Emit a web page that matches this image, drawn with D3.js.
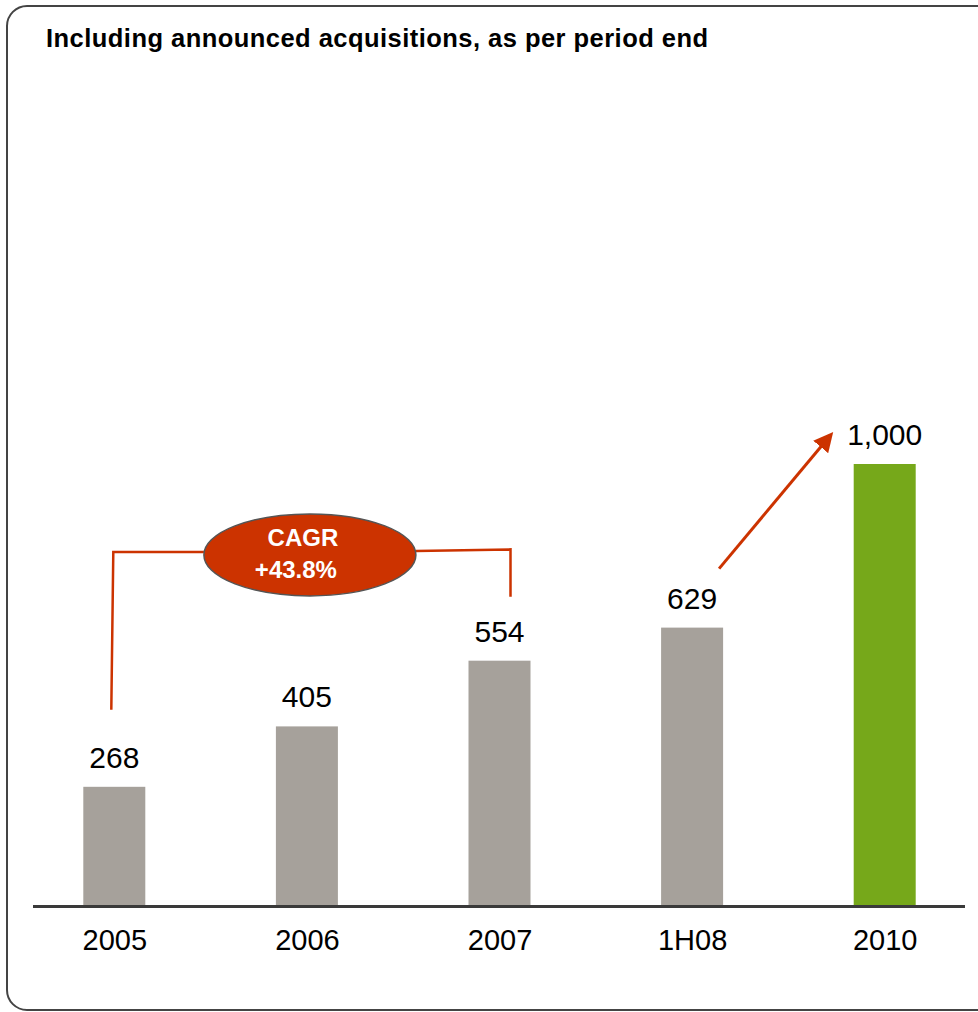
<!DOCTYPE html>
<html>
<head>
<meta charset="utf-8">
<script src="https://cdn.jsdelivr.net/npm/d3@7"></script>
<style>
  html, body { margin: 0; padding: 0; background: #fff; }
  svg { display: block; font-family: "Liberation Sans", Arial, sans-serif; }
</style>
</head>
<body>
<svg id="chart" width="978" height="1012"></svg>
<script>
// Period labels and values (per period end, incl. announced acquisitions)
const categories = ["2005", "2006", "2007", "1H08", "2010"];
const values = [268, 405, 554, 629, 1000];
const valueLabels = ["268", "405", "554", "629", "1,000"];
const isTarget = [false, false, false, false, true];

// CAGR bracket spanning 2005 → 2007
const cagrFrom = "2005";
const cagrTo = "2007";
const cagrText = ["CAGR", "+43.8%"];

const title = "Including announced acquisitions, as per period end";

const W = 978, H = 1012;
const svg = d3.select("#chart");

const GRAY = "#a6a19b", GREEN = "#76a81a", RED = "#cc3300";

// Outer rounded frame
svg.append("rect")
  .attr("x", 7).attr("y", 6)
  .attr("width", 1000).attr("height", 1004)
  .attr("rx", 20).attr("ry", 20)
  .attr("fill", "none").attr("stroke", "#444").attr("stroke-width", 2);

svg.append("text")
  .attr("x", 46).attr("y", 47)
  .attr("font-size", 25.5).attr("font-weight", "bold").attr("fill", "#000")
  .attr("textLength", 662).attr("lengthAdjust", "spacing")
  .text(title);

const x = d3.scalePoint().domain(categories).range([18, 981]).padding(0.5);
const y = d3.scaleLinear().domain([0, 1000]).range([905, 464]);
const barW = 62;

// Bars
svg.append("g").selectAll("rect")
  .data(categories)
  .join("rect")
  .attr("x", (d) => x(d) - barW / 2)
  .attr("y", (d, i) => y(values[i]))
  .attr("width", barW)
  .attr("height", (d, i) => y(0) - y(values[i]))
  .attr("fill", (d, i) => isTarget[i] ? GREEN : GRAY);

// Value labels
svg.append("g").selectAll("text")
  .data(categories)
  .join("text")
  .attr("x", (d) => x(d))
  .attr("y", (d, i) => y(values[i]) - 19)
  .attr("text-anchor", "middle")
  .attr("font-size", 30)
  .attr("fill", "#000")
  .text((d, i) => valueLabels[i]);

// Baseline
svg.append("line")
  .attr("x1", 33).attr("x2", 965)
  .attr("y1", y(0) + 1.5).attr("y2", y(0) + 1.5)
  .attr("stroke", "#3a3a3a").attr("stroke-width", 3);

// Category axis
const axis = svg.append("g")
  .attr("transform", `translate(0,${y(0)})`)
  .call(d3.axisBottom(x).tickSize(0).tickPadding(24));
axis.select(".domain").remove();
axis.selectAll("text")
  .attr("font-size", 29)
  .attr("font-family", "'Liberation Sans', Arial, sans-serif")
  .attr("fill", "#000");

// CAGR bracket
const iA = categories.indexOf(cagrFrom), iB = categories.indexOf(cagrTo);
const bx1 = x(cagrFrom) - 3, bx2 = x(cagrTo) + 11;
const bTop = y(803);
const legA = y(values[iA]) - 19 - 58;
const legB = y(values[iB]) - 19 - 45;
const ecx = (x(cagrFrom) + x(cagrTo)) / 2 + 3, ecy = bTop + 4, erx = 106, ery = 41;

svg.append("path")
  .attr("d", `M${bx1},${legA} L${bx1 + 2},${bTop + 1} L${ecx - erx},${bTop + 1}`)
  .attr("fill", "none").attr("stroke", RED).attr("stroke-width", 2.5);
svg.append("path")
  .attr("d", `M${ecx + erx},${bTop} L${bx2},${bTop - 1.5} L${bx2},${legB}`)
  .attr("fill", "none").attr("stroke", RED).attr("stroke-width", 2.5);

svg.append("ellipse")
  .attr("cx", ecx).attr("cy", ecy).attr("rx", erx).attr("ry", ery)
  .attr("fill", RED).attr("stroke", "#555").attr("stroke-width", 1.5);

svg.append("text")
  .attr("x", ecx - 7).attr("y", ecy - 9)
  .attr("text-anchor", "middle").attr("font-size", 24).attr("font-weight", "bold")
  .attr("fill", "#fff").text(cagrText[0]);
svg.append("text")
  .attr("x", ecx - 14).attr("y", ecy + 23)
  .attr("text-anchor", "middle").attr("font-size", 24).attr("font-weight", "bold")
  .attr("fill", "#fff").text(cagrText[1]);

// Growth arrow from 1H08 towards the 2010 target
const defs = svg.append("defs");
defs.append("marker")
  .attr("id", "head")
  .attr("viewBox", "0 0 10 10")
  .attr("refX", 8).attr("refY", 5)
  .attr("markerWidth", 6.5).attr("markerHeight", 6.5)
  .attr("markerUnits", "strokeWidth")
  .attr("orient", "auto")
  .append("path").attr("d", "M0,0 L10,5 L0,10 Z").attr("fill", RED);

const ax1 = x("1H08") + 27, ay1 = y(values[3]) - 19 - 40;
const ax2 = x("2010") - 54, ay2 = y(values[4]) - 29;
svg.append("line")
  .attr("x1", ax1).attr("y1", ay1).attr("x2", ax2).attr("y2", ay2)
  .attr("stroke", RED).attr("stroke-width", 3)
  .attr("marker-end", "url(#head)");
</script>
</body>
</html>
